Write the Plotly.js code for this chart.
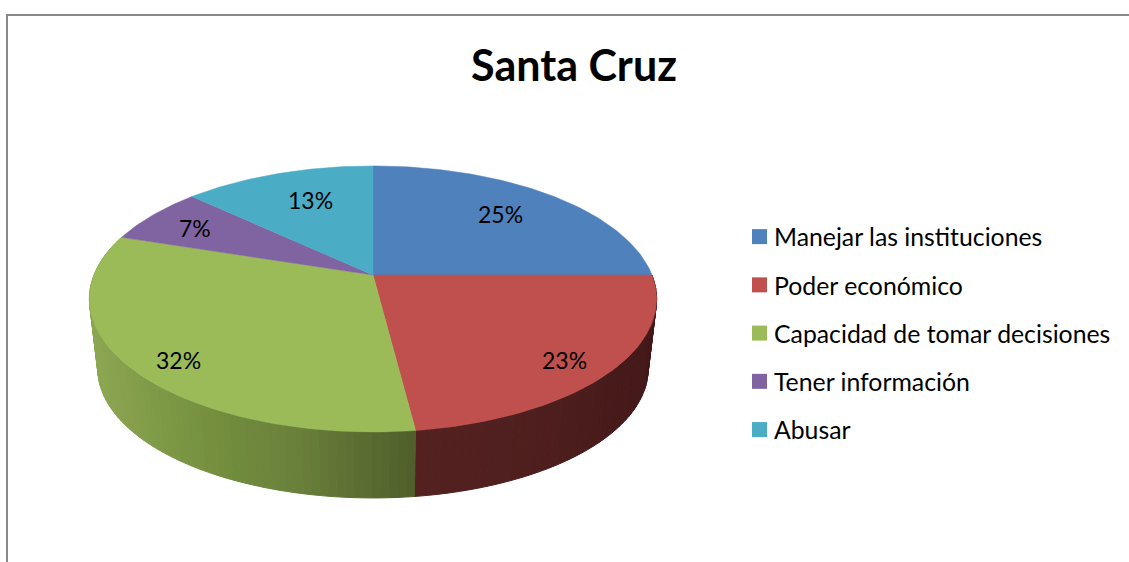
<!DOCTYPE html>
<html>
<head>
<meta charset="utf-8">
<script src="https://cdn.plot.ly/plotly-3.0.1.min.js"></script>
<style>html,body{margin:0;padding:0;background:#fff}#chart{width:1129px;height:562px}</style>
</head>
<body>
<div id="chart"></div>
<script>
var chartTitle = 'Santa Cruz';
var categories = ['Manejar las instituciones', 'Poder económico', 'Capacidad de tomar decisiones', 'Tener información', 'Abusar'];
var values = [25, 23, 32, 7, 13];
var sliceColors = ['#4f81bd', '#c0504d', '#9bbb59', '#8064a2', '#4bacc6'];
var labelX = [500, 564, 178, 195, 310];
var labelY = [214, 360, 360, 228, 200];

var FONT = 'Lato, Carlito, sans-serif';
// Perspective pie geometry (pixels on the axes, which span the page)
var cx = 373, cy = 275, a = 279, b = 128.7, k = 0.18;
var wallScale = 0.97, wallCy = 345.7;
function project(deg) {
  var t = deg * Math.PI / 180, u = Math.sin(t), v = Math.cos(t), d = 1 + k * v;
  return [a * u / d, -b * v / d];
}
function topPt(deg) { var p = project(deg); return [cx + p[0], cy + p[1]]; }
function lowPt(deg) { var p = project(deg); return [cx + wallScale * p[0], wallCy + wallScale * p[1]]; }

function hex(c) { return [parseInt(c.substr(1, 2), 16), parseInt(c.substr(3, 2), 16), parseInt(c.substr(5, 2), 16)]; }
function shade(stops, x) {
  for (var i = 0; i < stops.length - 1; i++) {
    if (x <= stops[i + 1][0] || i === stops.length - 2) {
      var f = Math.max(0, Math.min(1, (x - stops[i][0]) / (stops[i + 1][0] - stops[i][0])));
      var c0 = hex(stops[i][1]), c1 = hex(stops[i + 1][1]);
      return 'rgb(' + c0.map(function (c, j) { return Math.round(c + (c1[j] - c) * f); }).join(',') + ')';
    }
  }
}
var wallStops = {
  1: [[415, '#542120'], [550, '#4e1e1e'], [660, '#431818']],
  2: [[90, '#8ca652'], [200, '#76913f'], [300, '#687f3a'], [415, '#4f5e2b']]
};

var traces = [];
var total = values.reduce(function (s, v) { return s + v; }, 0);
var starts = [], acc = 0;
values.forEach(function (v) { starts.push(acc / total * 360); acc += v; });

// Side wall: narrow shaded strips for slices on the front of the pie
[1, 2].forEach(function (i) {
  var from = starts[i], to = starts[i] + values[i] / total * 360, step = (to - from) / Math.ceil((to - from) / 1.5);
  for (var d = from; d < to - 1e-6; d += step) {
    var A = topPt(d), B = topPt(d + step), C = lowPt(d + step), D = lowPt(d);
    var col = shade(wallStops[i], (A[0] + B[0]) / 2);
    traces.push({
      x: [A[0], B[0], C[0], D[0], A[0]], y: [A[1], B[1], C[1], D[1], A[1]],
      mode: 'lines', fill: 'toself', fillcolor: col, line: { color: col, width: 1 },
      showlegend: false, hoverinfo: 'skip'
    });
  }
});

// Top face
values.forEach(function (v, i) {
  var xs = [cx], ys = [cy], from = starts[i], sweep = v / total * 360, n = Math.ceil(sweep);
  for (var j = 0; j <= n; j++) { var p = topPt(from + sweep * j / n); xs.push(p[0]); ys.push(p[1]); }
  xs.push(cx); ys.push(cy);
  traces.push({
    x: xs, y: ys, mode: 'lines', fill: 'toself', fillcolor: sliceColors[i],
    line: { color: sliceColors[i], width: 0.5 }, showlegend: false, hoverinfo: 'skip'
  });
});

// Legend entries
categories.forEach(function (name, i) {
  traces.push({
    x: [null], y: [null], name: name, mode: 'markers', legendgroup: 'g' + i, hoverinfo: 'skip',
    marker: { symbol: 'square', size: 15, color: sliceColors[i] }
  });
});

var annotations = values.map(function (v, i) {
  return {
    x: labelX[i], y: labelY[i], xref: 'x', yref: 'y', text: Math.round(v / total * 100) + '%', showarrow: false,
    xanchor: 'center', yanchor: 'middle', font: { family: FONT, size: 23, color: '#000' }
  };
});

var layout = {
  width: 1129, height: 562,
  margin: { l: 0, r: 0, t: 0, b: 0 },
  paper_bgcolor: '#fff', plot_bgcolor: '#fff',
  title: {
    text: chartTitle, x: 574 / 1129, y: 1 - 66 / 562, xanchor: 'center', yanchor: 'middle',
    font: { family: FONT, size: 43, color: '#000', weight: 700 }
  },
  xaxis: { range: [0, 1129], visible: false, fixedrange: true },
  yaxis: { range: [562, 0], visible: false, fixedrange: true },
  showlegend: true,
  legend: {
    x: 734 / 1129, y: 1 - 214 / 562, xanchor: 'left', yanchor: 'top',
    tracegroupgap: 13, bgcolor: 'rgba(0,0,0,0)',
    font: { family: FONT, size: 24.8, color: '#000' }
  },
  annotations: annotations,
  shapes: [
    { type: 'line', xref: 'x', yref: 'y', x0: 6, x1: 1129, y0: 15, y1: 15, line: { color: '#888888', width: 2 } },
    { type: 'line', xref: 'x', yref: 'y', x0: 7, x1: 7, y0: 14, y1: 562, line: { color: '#888888', width: 2 } }
  ]
};

Plotly.newPlot('chart', traces, layout, { displayModeBar: false, responsive: false }).then(function (gd) {
  // Swatches sit closer to their text than the library's default spacing
  gd.querySelectorAll('.legend .legendpoints').forEach(function (g) { g.setAttribute('transform', 'translate(5.5,0)'); });
});
</script>
</body>
</html>
